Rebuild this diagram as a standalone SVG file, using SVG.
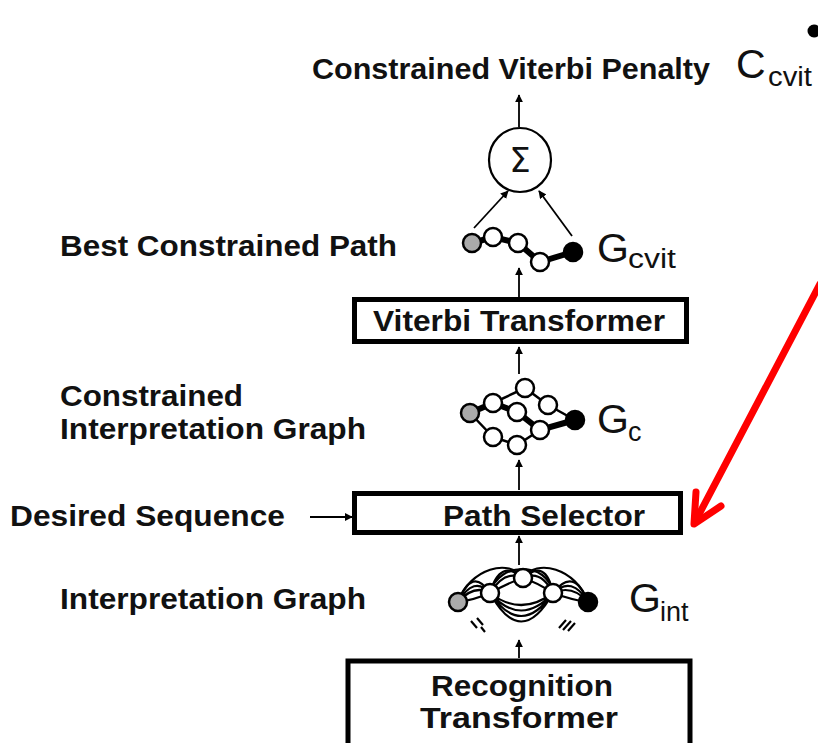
<svg xmlns="http://www.w3.org/2000/svg" width="818" height="743" viewBox="0 0 818 743">
<defs>
<style>
.lbl{font-family:"Liberation Sans",Arial,sans-serif;font-weight:bold;font-size:29px;fill:#111}
.g{font-family:"Liberation Sans",Arial,sans-serif;font-size:41px;fill:#111}
.sub{font-family:"Liberation Sans",Arial,sans-serif;font-size:27px;fill:#111}
.box{fill:#fff;stroke:#000;stroke-width:5}
.con{stroke:#000;stroke-width:1.8;fill:none}
.e{stroke:#000;stroke-width:2.5;fill:none}
.et{stroke:#000;stroke-width:6;fill:none}
.n{fill:#fff;stroke:#000;stroke-width:2.5}
.ng{fill:#aaa;stroke:#000;stroke-width:2.5}
.nb{fill:#000;stroke:#000;stroke-width:2.5}
.arc{stroke:#000;stroke-width:2.2;fill:none}
</style>
<marker id="ah" viewBox="0 0 10 10" refX="9" refY="5" markerWidth="8" markerHeight="8" orient="auto" markerUnits="userSpaceOnUse">
<path d="M0,0 L10,5 L0,10 z" fill="#000"/>
</marker>
</defs>
<rect width="818" height="743" fill="#fff"/>

<g id="bullet"><circle cx="814" cy="31" r="6.5" fill="#000"/></g>

<g id="penalty">
<text class="lbl" x="312" y="79" textLength="398" lengthAdjust="spacingAndGlyphs">Constrained Viterbi Penalty</text>
<text class="g" x="736" y="78" font-size="44">C</text>
<text class="sub" x="768" y="86" textLength="44" lengthAdjust="spacingAndGlyphs">cvit</text>
</g>

<g id="sum">
<ellipse cx="520" cy="160" rx="31" ry="32" fill="#fff" stroke="#000" stroke-width="2.2"/>
<text x="520" y="172" text-anchor="middle" font-family="'DejaVu Sans',sans-serif" font-size="34" fill="#111">Σ</text>
</g>

<g id="best-path">
<text class="lbl" x="60" y="256" textLength="337" lengthAdjust="spacingAndGlyphs">Best Constrained Path</text>
<polyline class="et" points="472,243 493,237 518,243 540,262 573,252"/>
<circle class="ng" cx="472" cy="243" r="9"/>
<circle class="n" cx="493" cy="237" r="9"/>
<circle class="n" cx="518" cy="243" r="9"/>
<circle class="n" cx="540" cy="262" r="9"/>
<circle class="nb" cx="573" cy="252" r="9"/>
<text class="g" x="597" y="262">G</text>
<text class="sub" x="628" y="268" textLength="48" lengthAdjust="spacingAndGlyphs">cvit</text>
</g>

<g id="viterbi-transformer">
<rect class="box" x="354.5" y="299.5" width="332" height="42"/>
<text class="lbl" x="373" y="331" textLength="292" lengthAdjust="spacingAndGlyphs">Viterbi Transformer</text>
</g>

<g id="constrained-graph">
<text class="lbl" x="60" y="406" textLength="183" lengthAdjust="spacingAndGlyphs">Constrained</text>
<text class="lbl" x="60" y="439" textLength="306" lengthAdjust="spacingAndGlyphs">Interpretation Graph</text>
<polyline class="e" points="493,403 525,388 548,405 575,420"/>
<polyline class="e" points="470,413 493,437 517,445 540,430"/>
<polyline class="et" points="470,413 493,403 517,412 540,430 575,420"/>
<circle class="ng" cx="470" cy="413" r="9"/>
<circle class="n" cx="493" cy="403" r="9"/>
<circle class="n" cx="525" cy="388" r="9"/>
<circle class="n" cx="548" cy="405" r="9"/>
<circle class="n" cx="517" cy="412" r="9"/>
<circle class="n" cx="540" cy="430" r="9"/>
<circle class="n" cx="493" cy="437" r="9"/>
<circle class="n" cx="517" cy="445" r="9"/>
<circle class="nb" cx="575" cy="420" r="9"/>
<text class="g" x="597" y="433">G</text>
<text class="sub" x="628" y="441">c</text>
</g>

<g id="desired-sequence">
<text class="lbl" x="10" y="526" textLength="275" lengthAdjust="spacingAndGlyphs">Desired Sequence</text>
</g>

<g id="path-selector">
<rect class="box" x="354.5" y="493.5" width="326" height="39"/>
<text class="lbl" x="443" y="526" textLength="202" lengthAdjust="spacingAndGlyphs">Path Selector</text>
</g>

<g id="interpretation-graph">
<text class="lbl" x="60" y="609" textLength="306" lengthAdjust="spacingAndGlyphs">Interpretation Graph</text>
<path class="arc" d="M458,602 Q472,566 490,593 M458,602 Q474,575 490,593 M458,602 Q474,584 490,593 M458,602 Q474,600 490,593"/>
<path class="arc" d="M490,593 Q500,558 523,578 M490,593 Q505,569 523,578 M490,593 Q510,582 523,578"/>
<path class="arc" d="M523,578 Q546,558 553,593 M523,578 Q541,569 553,593 M523,578 Q536,582 553,593"/>
<path class="arc" d="M553,593 Q574,566 588,602 M553,593 Q572,575 588,602 M553,593 Q572,584 588,602 M553,593 Q572,600 588,602"/>
<path class="arc" d="M490,593 C498,561 548,561 553,593 M458,602 C470,568 510,558 523,578 M523,578 C536,558 576,568 588,602"/>
<path class="arc" d="M490,593 Q521,650 553,593 M490,593 Q521,639 553,593 M490,593 Q521,628 553,593 M490,593 Q521,617 553,593"/>
<path class="arc" d="M471,621 L477,628 M477,618 L483,625 M481,627 L485,632"/>
<path class="arc" d="M566,620 L559,628 M571,621 L563,630 M575,623 L568,631"/>
<circle class="ng" cx="458" cy="602" r="9"/>
<circle class="n" cx="490" cy="593" r="9"/>
<circle class="n" cx="523" cy="578" r="9"/>
<circle class="n" cx="553" cy="593" r="9"/>
<circle class="nb" cx="588" cy="602" r="9"/>
<text class="g" x="629" y="612">G</text>
<text class="sub" x="660" y="621">int</text>
</g>

<g id="recognition-transformer">
<rect class="box" x="348" y="661" width="342" height="90" stroke-width="6"/>
<text class="lbl" x="522" y="696" text-anchor="middle" textLength="182" lengthAdjust="spacingAndGlyphs">Recognition</text>
<text class="lbl" x="519" y="728" text-anchor="middle" textLength="198" lengthAdjust="spacingAndGlyphs">Transformer</text>
</g>

<g id="connectors">
<line class="con" x1="519" y1="127" x2="519" y2="95" marker-end="url(#ah)"/>
<line class="con" x1="474" y1="228" x2="508" y2="191" marker-end="url(#ah)"/>
<line class="con" x1="572" y1="236" x2="539" y2="191" marker-end="url(#ah)"/>
<line class="con" x1="519" y1="297" x2="519" y2="268" marker-end="url(#ah)"/>
<line class="con" x1="519" y1="374" x2="519" y2="347" marker-end="url(#ah)"/>
<line class="con" x1="519" y1="490" x2="519" y2="460" marker-end="url(#ah)"/>
<line class="con" x1="310" y1="517" x2="352" y2="517" marker-end="url(#ah)"/>
<line class="con" x1="519" y1="565" x2="519" y2="536" marker-end="url(#ah)"/>
<line class="con" x1="519" y1="658" x2="519" y2="640" marker-end="url(#ah)"/>
</g>

<g id="red-arrow" stroke="#f00" stroke-width="7" stroke-linecap="round" stroke-linejoin="round" fill="none">
<line x1="820" y1="284" x2="695" y2="522"/>
<polyline points="696,492 694,524 721,506"/>
</g>
</svg>
